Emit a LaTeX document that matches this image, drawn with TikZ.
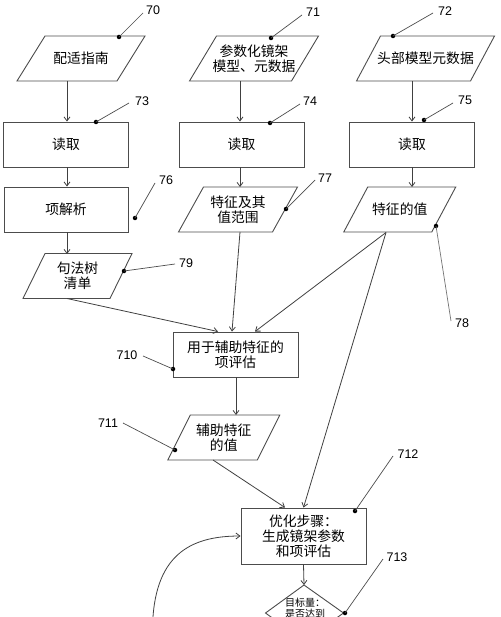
\documentclass[tikz,border=0pt]{standalone}
\usepackage{fontspec}
\setmainfont{Noto Sans CJK SC}
\newfontfamily\numfont{Liberation Sans}
\usetikzlibrary{arrows.meta}
\newcommand\pgram[6]{%
  \draw[shapeline] (#2-#4+#5,#3-22.5) -- (#2+#4+#5,#3-22.5) -- (#2+#4-#5,#3+22.5) -- (#2-#4-#5,#3+22.5) -- cycle;
  \node[txt] (#1) at (#2,#3) {#6};}
\begin{document}
\begin{tikzpicture}[x=1pt,y=-1pt,
  shapeline/.style={draw=black!70, line width=0.9pt},
  boxnode/.style={draw=black!70, line width=0.9pt, minimum width=125pt, minimum height=45pt, inner sep=0pt, font=\fontsize{13.8}{15}\selectfont, align=center},
  txt/.style={font=\fontsize{13.8}{15}\selectfont, align=center, inner sep=0pt},
  arr/.style={draw=black!75, line width=0.8pt, -{Straight Barb[length=4pt,width=6pt]}},
  lead/.style={draw=black!70, line width=0.7pt},
  dotn/.style={circle, fill=black, inner sep=0pt, minimum size=4.5pt},
  num/.style={font=\numfont\fontsize{12.5}{14}\selectfont, inner sep=0pt},
]
\useasboundingbox (0,0) rectangle (500,617);
\clip (0,0) rectangle (500,617);

% top row
\pgram{p70}{81}{58.5}{50}{14}{配适指南}
\pgram{p71}{254}{58.5}{51}{13.5}{参数化镜架\\模型、元数据}
\pgram{p72}{425.5}{58.5}{57}{12}{头部模型元数据}

% read boxes
\node[boxnode] (b73) at (66,144.5) {读取};
\node[boxnode] (b74) at (241.5,144.5) {读取};
\node[boxnode] (b75) at (412,144.5) {读取};

% third row
\node[boxnode, minimum width=124pt] (b76) at (66,209.5) {项解析};
\pgram{p77}{238}{209.5}{47}{12.5}{特征及其\\值范围}
\pgram{p78}{399.75}{209.5}{44}{12}{特征的值}

\pgram{p79}{77.5}{276}{43.5}{11}{句法树\\清单}

\node[boxnode] (b710) at (235.5,354.5) {用于辅助特征的\\项评估};
\pgram{p711}{223.75}{437.5}{44.75}{11.25}{辅助特征\\的值}
\node[boxnode, minimum height=56pt] (b712) at (303.5,536) {优化步骤：\\生成镜架参数\\和项评估};

% diamond 713
\draw[shapeline] (304,585) -- (343.5,613) -- (304,641) -- (265.5,613) -- cycle;
\node[font=\fontsize{10}{11}\selectfont, align=center, inner sep=0pt] (t713) at (305,608.5) {目标量：\\是否达到};
\coordinate (d713n) at (304,585);

% connector points
\coordinate (p70s) at (67,81);
\coordinate (p71s) at (240,81);
\coordinate (p72s) at (412,81);
\coordinate (p77n) at (240,187);
\coordinate (p77s) at (240,232);
\coordinate (p78n) at (412,187);
\coordinate (p78s) at (386,232.5);
\coordinate (p79n) at (67,254);
\coordinate (p79s) at (67,298.5);
\coordinate (p711n) at (236,415);
\coordinate (p711s) at (213,460);
\coordinate (loopst) at (152.5,630);

% connectors
\draw[arr] (p70s) -- (p70s |- b73.north);
\draw[arr] (p71s) -- (p71s |- b74.north);
\draw[arr] (p72s) -- (p72s |- b75.north);
\draw[arr] (b73.south -| p70s) -- (b76.north -| p70s);
\draw[arr] (b74.south -| p77n) -- (p77n);
\draw[arr] (b75.south -| p78n) -- (p78n);
\draw[arr] (b76.south -| p79n) -- (p79n);
\draw[arr] (p79s) -- ([xshift=-17.5pt]b710.north);
\draw[arr] (p77s) -- ([xshift=-3.5pt]b710.north);
\draw[arr] (p78s) -- ([xshift=19.5pt]b710.north);
\draw[arr] (p78s) -- (b712.north);
\draw[arr] (b710.south -| p711n) -- (p711n);
\draw[arr] (p711s) -- ([xshift=-18.5pt]b712.north);
\draw[arr] (b712.south) -- (d713n);
\draw[arr] (loopst) .. controls (153,555) and (190,536) .. (b712.west);

% reference labels
\node[dotn] (d70) at (119,37) {};
\node[num] (n70) at (153,10.5) {70};
\draw[lead] (d70.center) -- (143,13);

\node[dotn] (d71) at (271,38) {};
\node[num] (n71) at (313,12) {71};
\draw[lead] (d71.center) -- (302,15);

\node[dotn] (d72) at (393,36) {};
\node[num] (n72) at (445,11) {72};
\draw[lead] (d72.center) -- (433,13);

\node[dotn] (d73) at (96,122) {};
\node[num] (n73) at (142,101) {73};
\draw[lead] (d73.center) -- (129,103);

\node[dotn] (d74) at (270,123) {};
\node[num] (n74) at (310,101) {74};
\draw[lead] (d74.center) -- (300,104);

\node[dotn] (d75) at (424,120) {};
\node[num] (n75) at (465,100) {75};
\draw[lead] (d75.center) -- (453,103);

\node[dotn] (d76) at (135,218) {};
\node[num] (n76) at (166,180) {76};
\draw[lead] (d76.center) -- (155,183);

\node[dotn] (d77) at (286,209) {};
\node[num] (n77) at (325,178) {77};
\draw[lead] (d77.center) -- (315,180);

\node[dotn] (d78) at (436,226) {};
\node[num] (n78) at (462,323) {78};
\draw[lead, draw=black!55] (d78.center) -- (451,321);

\node[dotn] (d79) at (124,271) {};
\node[num] (n79) at (186,263) {79};
\draw[lead] (d79.center) -- (175,264);

\node[dotn] (d710) at (173,369) {};
\node[num] (n710) at (127,355) {710};
\draw[lead] (d710.center) -- (143,356);

\node[dotn] (d711) at (175,450) {};
\node[num] (n711) at (108,423) {711};
\draw[lead] (d711.center) -- (123,423);

\node[dotn] (d712) at (355,511) {};
\node[num] (n712) at (408,454) {712};
\draw[lead] (d712.center) -- (393,456);

\node[dotn] (d713) at (345,613) {};
\node[num] (n713) at (397,557) {713};
\draw[lead] (d713.center) -- (383,559);
\end{tikzpicture}
\end{document}
